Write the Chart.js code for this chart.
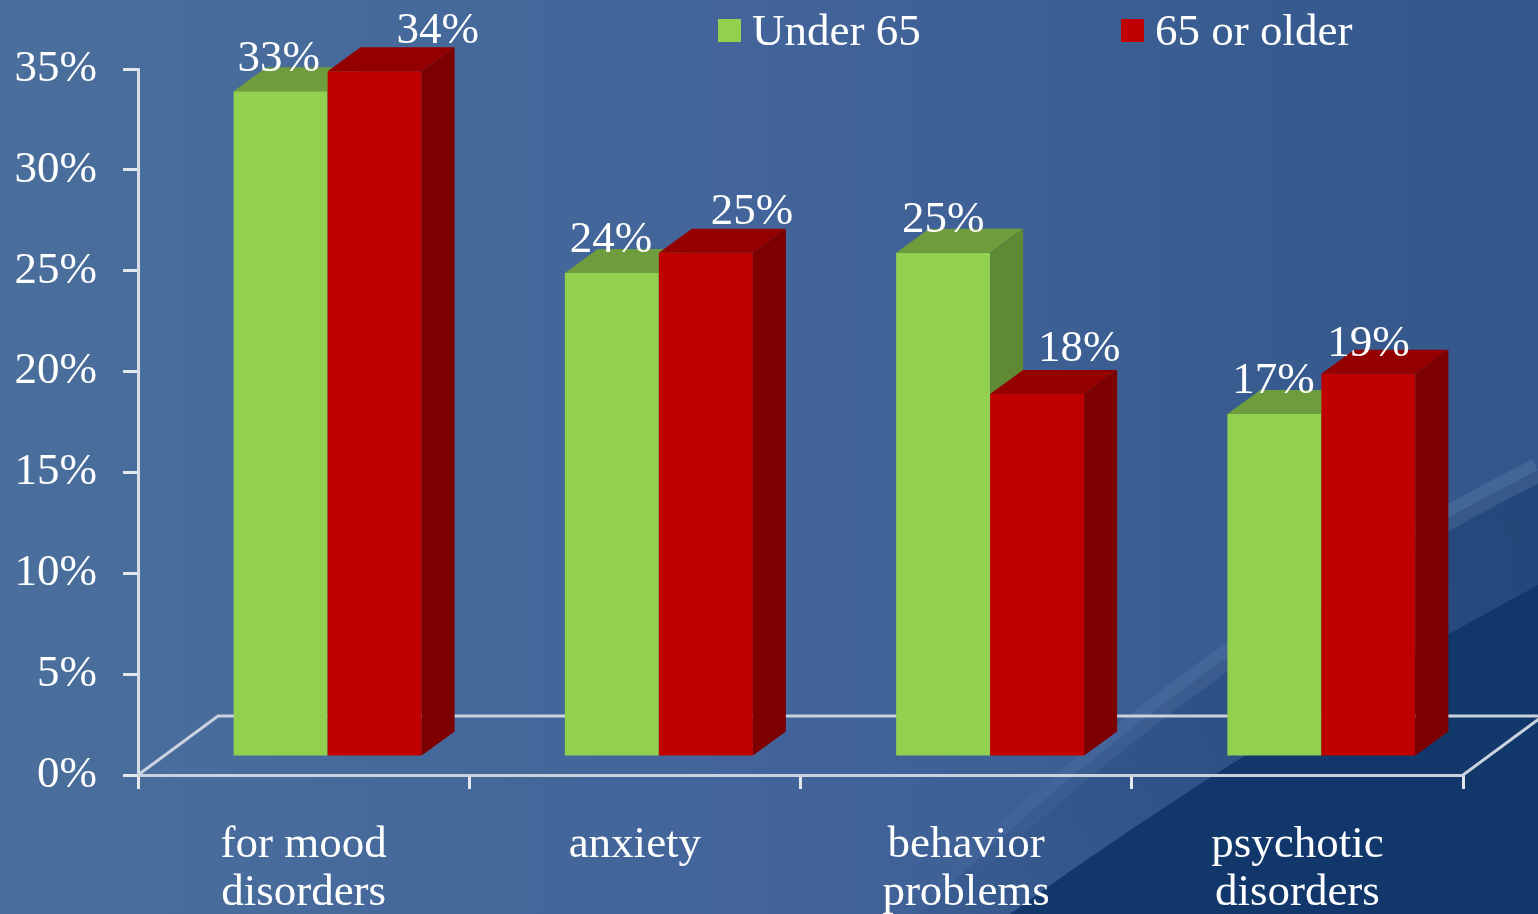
<!DOCTYPE html>
<html>
<head>
<meta charset="utf-8">
<title>Under 65 vs 65 or older</title>
<script src="https://cdn.jsdelivr.net/npm/chart.js"></script>
<style>
  html, body { margin: 0; padding: 0; background: #44679a; }
  #wrap { width: 1538px; height: 914px; }
</style>
</head>
<body>
<div id="wrap"><canvas id="myChart" width="1538" height="914"></canvas></div>
<script>
// categories (two-line labels) and the two series, in percent
const categories = [['for mood', 'disorders'], ['anxiety'], ['behavior', 'problems'], ['psychotic', 'disorders']];
const under65 = [33, 24, 25, 17];
const over65 = [34, 25, 18, 19];
const seriesNames = ['Under 65', '65 or older'];
const yTicks = [0, 5, 10, 15, 20, 25, 30, 35];

// look of the 3D boxes
const FONT = '"Liberation Serif", "DejaVu Serif", serif';
const faceColors = ['#92d050', '#c00000'];
const topColors = ['#6f9d3d', '#940000'];
const sideColors = ['#5f8933', '#7c0000'];
const BAR_SHIFT = { x: 24, y: -18 };   // bars stand a bit back on the floor
const DEPTH = { x: 33, y: -24 };       // thickness of each box
const FLOOR = { x: 80, y: -59 };       // depth of the floor

// small nudges so value labels don't collide with neighbouring boxes
const labelNudge = [
  [[-2, -20], [-1, -21], [0, -21], [-1, -21]],
  [[63, -28], [46, -29], [42, -33], [0, -18]]
];

const bgPlugin = {
  id: 'slideBackground',
  beforeDraw(chart) {
    const { ctx, width, height } = chart;
    ctx.save();
    const g = ctx.createLinearGradient(0, 0, width, 0);
    g.addColorStop(0, '#4a6f9c');
    g.addColorStop(0.5, '#42649a');
    g.addColorStop(1, '#33578a');
    ctx.fillStyle = g;
    ctx.fillRect(0, 0, width, height);

    // lighter swoosh, fading out towards the bottom left
    const swoosh = () => {
      ctx.beginPath();
      ctx.moveTo(920, height);
      ctx.quadraticCurveTo(1200, 640, width, 470);
    };
    swoosh();
    ctx.lineTo(width, height);
    ctx.closePath();
    const shade = ctx.createLinearGradient(950, height, width, 470);
    shade.addColorStop(0, 'rgba(24, 58, 110, 0.15)');
    shade.addColorStop(1, 'rgba(24, 58, 110, 0.55)');
    ctx.fillStyle = shade;
    ctx.fill();

    swoosh();
    const glow = ctx.createLinearGradient(950, height, width, 470);
    glow.addColorStop(0, 'rgba(150, 180, 220, 0)');
    glow.addColorStop(0.35, 'rgba(150, 180, 220, 0.10)');
    glow.addColorStop(1, 'rgba(150, 180, 220, 0.16)');
    ctx.strokeStyle = glow;
    ctx.lineWidth = 24;
    ctx.stroke();

    // dark navy corner
    ctx.beginPath();
    ctx.moveTo(1010, height);
    ctx.quadraticCurveTo(1250, 740, width, 585);
    ctx.lineTo(width, height);
    ctx.closePath();
    ctx.fillStyle = '#11376b';
    ctx.fill();
    ctx.restore();
  }
};

const boxPlugin = {
  id: 'boxes3d',
  beforeDatasetsDraw(chart) {
    const { ctx, chartArea: a } = chart;
    ctx.save();
    ctx.strokeStyle = '#c9d2de';
    ctx.lineWidth = 3;
    ctx.beginPath();
    ctx.moveTo(a.left, a.bottom);
    ctx.lineTo(a.left + FLOOR.x, a.bottom + FLOOR.y);
    ctx.lineTo(a.right + FLOOR.x, a.bottom + FLOOR.y);
    ctx.lineTo(a.right, a.bottom);
    ctx.stroke();
    ctx.restore();
  },
  // boxes are painted below, green first, so each red front hides the green side
  beforeDatasetDraw() {
    return false;
  },
  afterDatasetsDraw(chart) {
    const ctx = chart.ctx;
    chart.data.datasets.forEach((ds, i) => {
      chart.getDatasetMeta(i).data.forEach((bar) => {
        ctx.save();
        ctx.translate(BAR_SHIFT.x, BAR_SHIFT.y);
        bar.draw(ctx, chart.chartArea);
        ctx.restore();

        const p = bar.getProps(['x', 'y', 'base', 'width'], true);
        const l = p.x - p.width / 2 + BAR_SHIFT.x;
        const r = p.x + p.width / 2 + BAR_SHIFT.x;
        const t = p.y + BAR_SHIFT.y;
        const b = p.base + BAR_SHIFT.y;
        ctx.save();
        // top face
        ctx.fillStyle = topColors[i];
        ctx.beginPath();
        ctx.moveTo(l, t);
        ctx.lineTo(l + DEPTH.x, t + DEPTH.y);
        ctx.lineTo(r + DEPTH.x, t + DEPTH.y);
        ctx.lineTo(r, t);
        ctx.closePath();
        ctx.fill();
        // right side
        ctx.fillStyle = sideColors[i];
        ctx.beginPath();
        ctx.moveTo(r, t);
        ctx.lineTo(r + DEPTH.x, t + DEPTH.y);
        ctx.lineTo(r + DEPTH.x, b + DEPTH.y);
        ctx.lineTo(r, b);
        ctx.closePath();
        ctx.fill();
        ctx.restore();
      });
    });

    ctx.save();
    ctx.fillStyle = '#ffffff';
    ctx.font = '45px ' + FONT;
    ctx.textAlign = 'center';
    ctx.textBaseline = 'alphabetic';
    chart.data.datasets.forEach((ds, i) => {
      chart.getDatasetMeta(i).data.forEach((bar, j) => {
        const n = labelNudge[i][j];
        ctx.fillText(ds.data[j] + '%', bar.x + BAR_SHIFT.x + n[0], bar.y + BAR_SHIFT.y + n[1]);
      });
    });

    // legend across the top right
    const legendX = [718, 1121];
    chart.data.datasets.forEach((ds, i) => {
      ctx.fillStyle = faceColors[i];
      ctx.fillRect(legendX[i], 19, 23, 23);
      ctx.fillStyle = '#ffffff';
      ctx.textAlign = 'left';
      ctx.fillText(ds.label, legendX[i] + 34, 45);
    });
    ctx.restore();
  }
};

const ctx = document.getElementById('myChart').getContext('2d');
new Chart(ctx, {
  type: 'bar',
  data: {
    labels: categories,
    datasets: [
      { label: seriesNames[0], data: under65, backgroundColor: faceColors[0] },
      { label: seriesNames[1], data: over65, backgroundColor: faceColors[1] }
    ]
  },
  options: {
    responsive: false,
    animation: false,
    events: [],
    layout: { padding: { top: 69, right: 75, bottom: 0, left: 0 } },
    datasets: { bar: { categoryPercentage: 0.5675, barPercentage: 1 } },
    plugins: { legend: { display: false }, tooltip: { enabled: false } },
    scales: {
      x: {
        afterFit(scale) { scale.height = 139; },
        border: { color: '#c9d2de', width: 3 },
        grid: { drawOnChartArea: false, color: '#e4e8ee', lineWidth: 3, tickLength: 14 },
        ticks: {
          color: '#ffffff',
          padding: 32,
          maxRotation: 0,
          font: { family: FONT, size: 45, lineHeight: 1.07 }
        }
      },
      y: {
        min: 0,
        max: 35,
        afterFit(scale) { scale.width = 138; },
        afterBuildTicks(scale) { scale.ticks = yTicks.map(v => ({ value: v })); },
        border: { color: '#d9dee6', width: 3 },
        grid: { drawOnChartArea: false, color: '#e4e8ee', lineWidth: 3, tickLength: 15 },
        ticks: {
          color: '#ffffff',
          padding: 26,
          font: { family: FONT, size: 45 },
          callback: (v) => v + '%'
        }
      }
    }
  },
  plugins: [bgPlugin, boxPlugin]
});
</script>
</body>
</html>
